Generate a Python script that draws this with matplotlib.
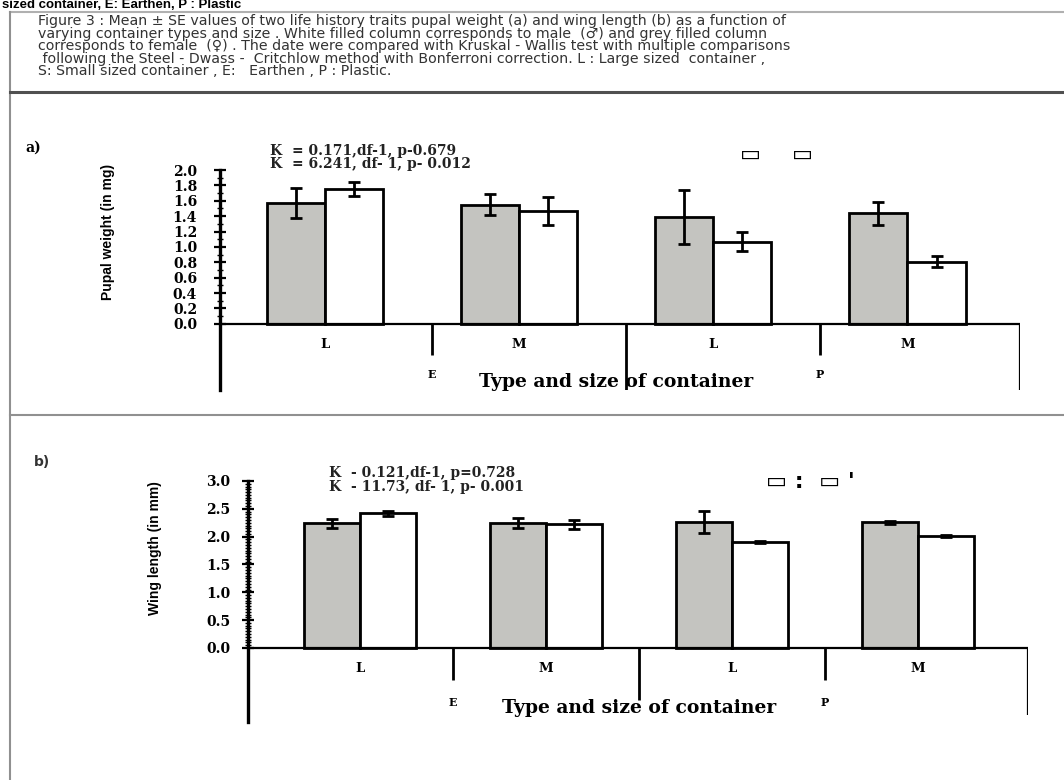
import numpy as np
import matplotlib
matplotlib.use("Agg")
import matplotlib.pyplot as plt
from matplotlib.lines import Line2D
from matplotlib.ticker import FixedLocator

# data
groups = ["L", "M", "L", "M"]
types = ["E", "P"]

pupal_female = [1.57, 1.55, 1.39, 1.44]
pupal_female_se = [0.20, 0.14, 0.35, 0.15]
pupal_male = [1.75, 1.47, 1.07, 0.81]
pupal_male_se = [0.09, 0.18, 0.12, 0.07]

wing_female = [2.24, 2.24, 2.26, 2.26]
wing_female_se = [0.08, 0.09, 0.20, 0.03]
wing_male = [2.42, 2.22, 1.90, 2.01]
wing_male_se = [0.04, 0.08, 0.02, 0.02]

stats_a = ["K  = 0.171,df-1, p-0.679", "K  = 6.241, df- 1, p- 0.012"]
stats_b = ["K  - 0.121,df-1, p=0.728", "K  - 11.73, df- 1, p- 0.001"]

caption = [
    "Figure 3 : Mean \u00b1 SE values of two life history traits pupal weight (a) and wing length (b) as a function of",
    "varying container types and size . White filled column corresponds to male  (\u2642) and grey filled column",
    "corresponds to female  (\u2640) . The date were compared with Kruskal - Wallis test with multiple comparisons",
    " following the Steel - Dwass -  Critchlow method with Bonferroni correction. L : Large sized  container ,",
    "S: Small sized container , E:   Earthen , P : Plastic.",
]

W, H = 1064, 780
GREY = "#c4c4c0"


def fx(x):
    return x / W


def fy(y):
    return 1 - y / H


fig = plt.figure(figsize=(W / 100, H / 100), dpi=100)
fig.patch.set_facecolor("white")

# page frame
fig.add_artist(Line2D([fx(10), 1], [fy(12), fy(12)], color="#b0b0b0", lw=1.5))
fig.add_artist(Line2D([fx(10), fx(10)], [fy(12), 0], color="#909090", lw=1.5))
fig.add_artist(Line2D([fx(10), 1], [fy(92), fy(92)], color="#505050", lw=2.2))
fig.add_artist(Line2D([fx(10), 1], [fy(415), fy(415)], color="#909090", lw=1.5))

fig.text(fx(2), fy(5), "sized container, E: Earthen, P : Plastic", fontsize=9.5,
         fontweight="bold", family="Liberation Sans", va="center", ha="left")

for i, line in enumerate(caption):
    fig.text(fx(38), fy(21 + i * 12.6), line, fontsize=10.2, color="#333333",
             family="DejaVu Sans", va="center", ha="left")


def draw_panel(ax, female, female_se, male, male_se, ymax, major, minor,
               short_depth, long_depth, end_depth, sep_shift, lab_y, type_y, title_y):
    x = np.arange(len(groups))
    w = 0.3
    ax.bar(x - w / 2, female, w, color=GREY, edgecolor="black", linewidth=2, zorder=2)
    ax.bar(x + w / 2, male, w, color="white", edgecolor="black", linewidth=2, zorder=2)
    ax.errorbar(x - w / 2, female, yerr=female_se, fmt="none", ecolor="black",
                elinewidth=2, capsize=4, capthick=2, zorder=3)
    ax.errorbar(x + w / 2, male, yerr=male_se, fmt="none", ecolor="black",
                elinewidth=2, capsize=4, capthick=2, zorder=3)

    x0, x1 = ax.get_xlim()
    ax.plot([x0, x1], [0, 0], color="black", lw=1.6, zorder=4)
    ax.vlines(x1, end_depth, 0, color="black", lw=1.6)
    for i in range(len(groups) - 1):
        depth = long_depth if i == 1 else short_depth
        ax.vlines(i + sep_shift, depth, 0, color="black", lw=2, zorder=5)

    for i, g in enumerate(groups):
        ax.text(x[i], lab_y, g, ha="center", va="center", fontsize=9.5,
                fontweight="bold", family="DejaVu Serif")
    for j, t in enumerate(types):
        ax.text(2 * j + sep_shift, type_y, t, ha="center", va="center", fontsize=8,
                fontweight="bold", family="DejaVu Serif")
    ax.text(1.5, title_y, "Type and size of container", ha="center", va="center",
            fontsize=13.5, fontweight="bold", family="DejaVu Serif", zorder=1)

    for s in ["top", "right", "bottom"]:
        ax.spines[s].set_visible(False)
    ax.spines["left"].set_linewidth(2.4)
    ax.spines["left"].set_bounds(ax.get_ylim()[0], ymax)
    ax.set_xticks([])
    majors = np.arange(0, ymax + 1e-9, major)
    ax.set_yticks(majors)
    ax.yaxis.set_minor_locator(FixedLocator(np.arange(0, ymax + 1e-9, minor)))
    ax.tick_params(axis="y", which="major", direction="inout", length=9, width=1.6)
    ax.tick_params(axis="y", which="minor", direction="inout", length=4, width=1)
    ax.set_yticklabels([f"{v:.1f}" for v in majors],
                       fontsize=10, fontweight="bold", family="DejaVu Serif")
    ax.set_facecolor("none")


# panel a
ax_a = fig.add_axes([fx(220), fy(390), fx(800), 220 / H])
ax_a.set_xlim(-0.54, 3.58)
ax_a.set_ylim(-0.86, 2.0)
draw_panel(ax_a, pupal_female, pupal_female_se, pupal_male, pupal_male_se,
           2.0, 0.2, 0.1, -0.40, -0.86, -0.86, 0.55, -0.27, -0.66, -0.75)
ax_a.tick_params(axis="y", which="major", pad=12)
ax_a.set_ylabel("Pupal weight (in mg)", fontsize=10, fontweight="bold",
                family="Liberation Sans")
ax_a.yaxis.set_label_coords(-0.131, 0.72)

fig.text(fx(25), fy(148), "a)", fontsize=10, fontweight="bold", family="DejaVu Serif",
         va="center")
for i, s in enumerate(stats_a):
    fig.text(fx(270), fy(151 + i * 13), s, fontsize=10, fontweight="bold",
             family="DejaVu Serif", va="center", color="#222222")
fig.text(fx(776), fy(155), "\u25ad    \u25ad", fontsize=16, fontweight="bold",
         family="DejaVu Sans", va="center", ha="center")

# panel b
ax_b = fig.add_axes([fx(248), fy(722), fx(780), 241 / H])
ax_b.set_xlim(-0.60, 3.59)
ax_b.set_ylim(-1.33, 3.0)
draw_panel(ax_b, wing_female, wing_female_se, wing_male, wing_male_se,
           3.0, 0.5, 0.05, -0.57, -0.93, -1.2, 0.5, -0.36, -0.98, -1.08)
ax_b.tick_params(axis="y", which="major", pad=8)
ax_b.set_ylabel("Wing length (in mm)", fontsize=10, fontweight="bold",
                family="Liberation Sans")
ax_b.yaxis.set_label_coords(-0.11, 0.72)

fig.text(fx(34), fy(462), "b)", fontsize=10, fontweight="bold", family="DejaVu Sans",
         va="center", color="#333333")
for i, s in enumerate(stats_b):
    fig.text(fx(329), fy(473 + i * 14), s, fontsize=10, fontweight="bold",
             family="DejaVu Serif", va="center", color="#222222")
fig.text(fx(810), fy(482), "\u25ad :  \u25ad '", fontsize=16, fontweight="bold",
         family="DejaVu Sans", va="center", ha="center")

fig.savefig("out.png", dpi=100)
